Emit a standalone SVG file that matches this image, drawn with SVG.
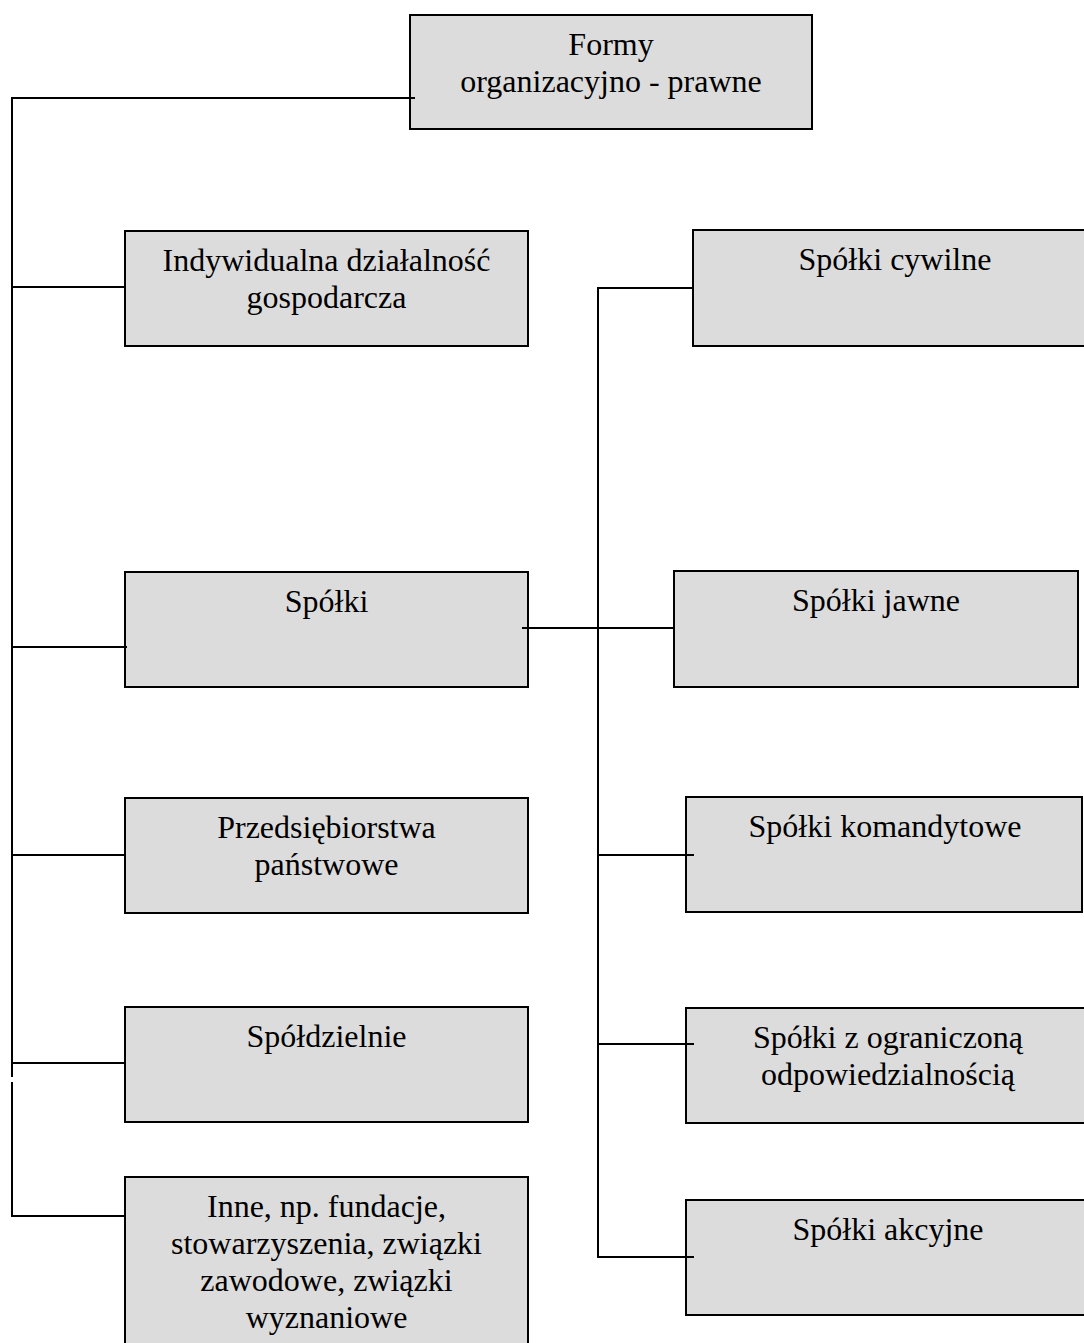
<svg xmlns="http://www.w3.org/2000/svg" width="1084" height="1343" viewBox="0 0 1084 1343">
<style>
.box{fill:#dcdcdc;stroke:#000;stroke-width:2}
.t{font-family:"Liberation Serif","Times New Roman",serif;font-size:32px;fill:#000;text-anchor:middle}
.c{stroke:#000;stroke-width:2;fill:none}
</style>
<rect width="1084" height="1343" fill="#fff"/>
<g id="n-root"><rect class="box" x="410" y="15" width="402" height="114"/><text class="t" x="611" y="55">Formy</text><text class="t" x="611" y="92">organizacyjno - prawne</text></g>
<g id="n-indywidualna"><rect class="box" x="125" y="231" width="403" height="115"/><text class="t" x="326.5" y="271">Indywidualna działalność</text><text class="t" x="326.5" y="308">gospodarcza</text></g>
<g id="n-spolki"><rect class="box" x="125" y="572" width="403" height="115"/><text class="t" x="326.5" y="612">Spółki</text></g>
<g id="n-przedsiebiorstwa"><rect class="box" x="125" y="798" width="403" height="115"/><text class="t" x="326.5" y="838">Przedsiębiorstwa</text><text class="t" x="326.5" y="875">państwowe</text></g>
<g id="n-spoldzielnie"><rect class="box" x="125" y="1007" width="403" height="115"/><text class="t" x="326.5" y="1047">Spółdzielnie</text></g>
<g id="n-inne"><rect class="box" x="125" y="1177" width="403" height="180"/><text class="t" x="326.5" y="1217">Inne, np. fundacje,</text><text class="t" x="326.5" y="1254">stowarzyszenia, związki</text><text class="t" x="326.5" y="1291">zawodowe, związki</text><text class="t" x="326.5" y="1328">wyznaniowe</text></g>
<g id="n-cywilne"><rect class="box" x="693" y="230" width="404" height="116"/><text class="t" x="895" y="270">Spółki cywilne</text></g>
<g id="n-jawne"><rect class="box" x="674" y="571" width="404" height="116"/><text class="t" x="876" y="611">Spółki jawne</text></g>
<g id="n-komandytowe"><rect class="box" x="686" y="797" width="396" height="115"/><text class="t" x="885" y="837">Spółki komandytowe</text></g>
<g id="n-zoo"><rect class="box" x="686" y="1008" width="404" height="115"/><text class="t" x="888" y="1048">Spółki z ograniczoną</text><text class="t" x="888" y="1085">odpowiedzialnością</text></g>
<g id="n-akcyjne"><rect class="box" x="686" y="1200" width="404" height="115"/><text class="t" x="888" y="1240">Spółki akcyjne</text></g>
<g id="connectors">
<polyline class="c" points="415,98 12,98 12,1077"/>
<line class="c" x1="12" y1="1082" x2="12" y2="1217"/>
<line class="c" x1="12" y1="287" x2="125" y2="287"/>
<line class="c" x1="12" y1="647" x2="127" y2="647"/>
<line class="c" x1="12" y1="855" x2="125" y2="855"/>
<line class="c" x1="12" y1="1063" x2="125" y2="1063"/>
<line class="c" x1="12" y1="1216" x2="125" y2="1216"/>
<polyline class="c" points="693,288 598,288 598,1257 694,1257"/>
<line class="c" x1="522" y1="628" x2="674" y2="628"/>
<line class="c" x1="598" y1="855" x2="694" y2="855"/>
<line class="c" x1="598" y1="1044" x2="694" y2="1044"/>
</g>
</svg>
